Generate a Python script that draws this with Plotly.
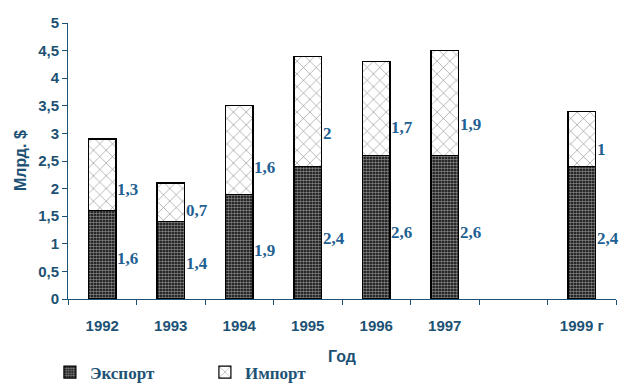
import plotly.graph_objects as go

categories = ["1992", "1993", "1994", "1995", "1996", "1997", "", "1999 г"]
export_vals = [1.6, 1.4, 1.9, 2.4, 2.6, 2.6, None, 2.4]
import_vals = [1.3, 0.7, 1.6, 2.0, 1.7, 1.9, None, 1.0]
export_labels = ["1,6", "1,4", "1,9", "2,4", "2,6", "2,6", "", "2,4"]
import_labels = ["1,3", "0,7", "1,6", "2", "1,7", "1,9", "", "1"]

AX = "#1d5274"
LBL = "#1f6192"
SERIF = "Liberation Serif, Times New Roman, serif"
SANS = "Liberation Sans, Arial, sans-serif"

xpos = list(range(len(categories)))
boundaries = [i - 0.5 for i in range(len(categories) + 1)]

fig = go.Figure()
fig.add_trace(go.Bar(
    x=xpos, y=export_vals, name="Экспорт", width=0.4,
    marker=dict(color="black", line=dict(color="black", width=1.2),
                pattern=dict(shape=".", fgcolor="white", bgcolor="black", size=3, solidity=0.6)),
))
fig.add_trace(go.Bar(
    x=xpos, y=import_vals, name="Импорт", width=0.4,
    marker=dict(color="white", line=dict(color="black", width=1.2),
                pattern=dict(shape="x", fgcolor="black", bgcolor="white", size=9, solidity=0.12)),
))

annotations = []
for x, e, im, el, il in zip(xpos, export_vals, import_vals, export_labels, import_labels):
    if e is None:
        continue
    annotations.append(dict(x=x, y=e * 0.46, text=el, showarrow=False, xanchor="left",
                            xshift=13, font=dict(family=SERIF, size=17, color=LBL, weight="bold")))
    annotations.append(dict(x=x, y=e + im * 0.3, text=il, showarrow=False, xanchor="left",
                            xshift=13, font=dict(family=SERIF, size=17, color=LBL, weight="bold")))

annotations.append(dict(text="Год", xref="paper", yref="paper", x=0.5, y=0, yanchor="middle",
                        yshift=-57, showarrow=False,
                        font=dict(family=SANS, size=16, color=AX, weight="bold")))
annotations.append(dict(text="Млрд. $", xref="paper", yref="paper", x=0, y=0.5, xanchor="center",
                        xshift=-48, textangle=-90, showarrow=False,
                        font=dict(family=SANS, size=16, color=AX, weight="bold")))

fig.update_layout(
    barmode="stack",
    width=624, height=388,
    margin=dict(l=68, r=8, t=23, b=89, autoexpand=False),
    plot_bgcolor="white", paper_bgcolor="white",
    separators=", ",
    showlegend=True,
    legend=dict(orientation="h", xref="container", yref="container", x=0.08, y=0.04,
                xanchor="left", yanchor="middle",
                font=dict(family=SERIF, size=17, color=AX, weight="bold"),
                entrywidth=110, itemwidth=30, traceorder="normal"),
    annotations=annotations,
    font=dict(family=SANS, color=AX),
)
fig.update_xaxes(
    range=[-0.5, len(categories) - 0.5], automargin=False,
    tickmode="array", tickvals=xpos, ticktext=categories, ticks="",
    minor=dict(tickmode="array", tickvals=boundaries, ticks="outside", ticklen=5, tickcolor=AX, showgrid=False),
    showline=True, linecolor=AX, linewidth=1, showgrid=False, zeroline=False,
    tickfont=dict(family=SANS, size=15, color=AX, weight="bold"),
    ticklabelstandoff=13,
)
fig.update_yaxes(
    range=[0, 5], dtick=0.5, ticks="outside", ticklen=5, tickcolor=AX, automargin=False,
    showline=True, linecolor=AX, linewidth=1, showgrid=False, zeroline=False,
    tickfont=dict(family=SANS, size=15, color=AX, weight="bold"),
)

fig.write_html("out.html", config={"displayModeBar": False},
               post_script="document.body.style.margin='0';")
